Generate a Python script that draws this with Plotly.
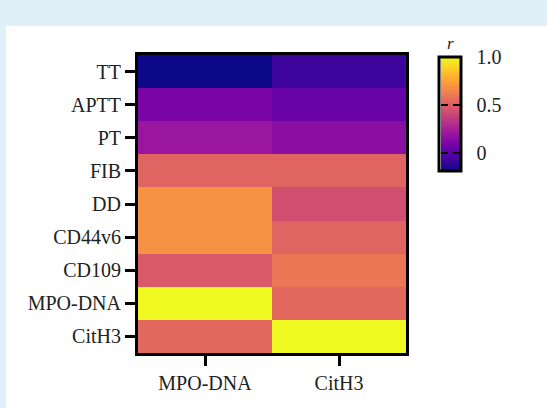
import plotly.graph_objects as go

rows = ["TT", "APTT", "PT", "FIB", "DD", "CD44v6", "CD109", "MPO-DNA", "CitH3"]
cols = ["MPO-DNA", "CitH3"]
r_mpo_dna = [-0.20, 0.10, 0.20, 0.52, 0.69, 0.69, 0.48, 1.00, 0.54]
r_cith3 = [-0.08, 0.04, 0.15, 0.52, 0.44, 0.52, 0.59, 0.54, 1.00]
cbar_ticks = [0, 0.5, 1.0]
cbar_ticktext = ["0", "0.5", "1.0"]
cmin, cmax = -0.19, 1.0

z = [[a, b] for a, b in zip(r_mpo_dna, r_cith3)]

W, H = 547, 408
L, R, T, B = 138, 141, 55, 55
pw, ph = W - L - R, H - T - B

def px_x(p):
    return (p - L) / pw

def px_y(p):
    return (H - B - p) / ph

FONT = "'Liberation Serif', 'DejaVu Serif', serif"
TXT = "#222222"
FS = 20
TITLE_PAD = 21
CLEAR = [[0, "rgba(0,0,0,0)"], [1, "rgba(0,0,0,0)"]]

fig = go.Figure()
# main visible heatmap
fig.add_trace(go.Heatmap(z=z, x=cols, y=rows, coloraxis="coloraxis"))
# helper traces (invisible) that carry the extra colorbar pieces
for ca in ["coloraxis2", "coloraxis3", "coloraxis4"]:
    fig.add_trace(go.Heatmap(z=z, x=cols, y=rows, coloraxis=ca,
                             opacity=0, hoverinfo="skip"))

cb_common = dict(
    y=px_y(54 - TITLE_PAD), yanchor="top", ypad=0,
    len=117 + TITLE_PAD, lenmode="pixels", xpad=0,
    tickmode="array", tickvals=cbar_ticks, thicknessmode="pixels",
    xanchor="left",
)

def r_title(color):
    return dict(text="<i>r</i>", side="top",
                font=dict(family=FONT, size=17, color=color))

fig.update_layout(
    width=W, height=H,
    margin=dict(l=L, r=R, t=T, b=B),
    paper_bgcolor="#dff0f9",
    plot_bgcolor="white",
    font=dict(family=FONT, size=FS, color=TXT),
    showlegend=False,
    # right part of the bar, with right-edge ticks and the title
    coloraxis=dict(
        colorscale="Plasma", cmin=cmin, cmax=cmax,
        colorbar=dict(
            **cb_common,
            x=px_x(447), thickness=12.5, outlinewidth=0,
            ticks="inside", ticklen=7, tickwidth=2, tickcolor="black",
            showticklabels=False,
            title=r_title(TXT),
        ),
    ),
    # left part of the bar, with left-edge ticks
    coloraxis2=dict(
        colorscale="Plasma", cmin=cmin, cmax=cmax,
        colorbar=dict(
            **cb_common,
            x=px_x(440.5), thickness=6.5, outlinewidth=0,
            ticks="inside", ticklen=7, tickwidth=2, tickcolor="black",
            showticklabels=False,
            title=r_title("rgba(0,0,0,0)"),
        ),
    ),
    # outline frame
    coloraxis3=dict(
        colorscale=CLEAR, cmin=cmin, cmax=cmax,
        colorbar=dict(
            **cb_common,
            x=px_x(439), thickness=22, outlinewidth=3, outlinecolor="black",
            ticks="", showticklabels=False,
            title=r_title("rgba(0,0,0,0)"),
        ),
    ),
    # tick labels
    coloraxis4=dict(
        colorscale=CLEAR, cmin=cmin, cmax=cmax,
        colorbar=dict(
            **cb_common,
            x=px_x(461), thickness=0.5, outlinewidth=0,
            ticks="outside", ticklen=11, tickcolor="rgba(0,0,0,0)",
            ticktext=cbar_ticktext,
            tickfont=dict(family=FONT, size=FS, color=TXT),
            title=r_title("rgba(0,0,0,0)"),
        ),
    ),
    xaxis=dict(
        showline=True, linewidth=3, linecolor="black", mirror=True,
        ticks="outside", ticklen=10, tickwidth=2.5, tickcolor="black",
        tickfont=dict(family=FONT, size=FS, color=TXT),
        showgrid=False, zeroline=False,
    ),
    yaxis=dict(
        autorange="reversed",
        showline=True, linewidth=3, linecolor="black", mirror=True,
        ticks="outside", ticklen=10, tickwidth=2.5, tickcolor="black",
        tickfont=dict(family=FONT, size=FS, color=TXT),
        showgrid=False, zeroline=False,
    ),
    shapes=[dict(
        type="rect", xref="paper", yref="paper",
        x0=px_x(6), x1=px_x(W + 5), y0=px_y(H + 5), y1=px_y(26),
        fillcolor="white", line=dict(width=0), layer="below",
    )],
)

fig.write_html("out.html", post_script="document.body.style.margin='0';",
               config={"displayModeBar": False})
